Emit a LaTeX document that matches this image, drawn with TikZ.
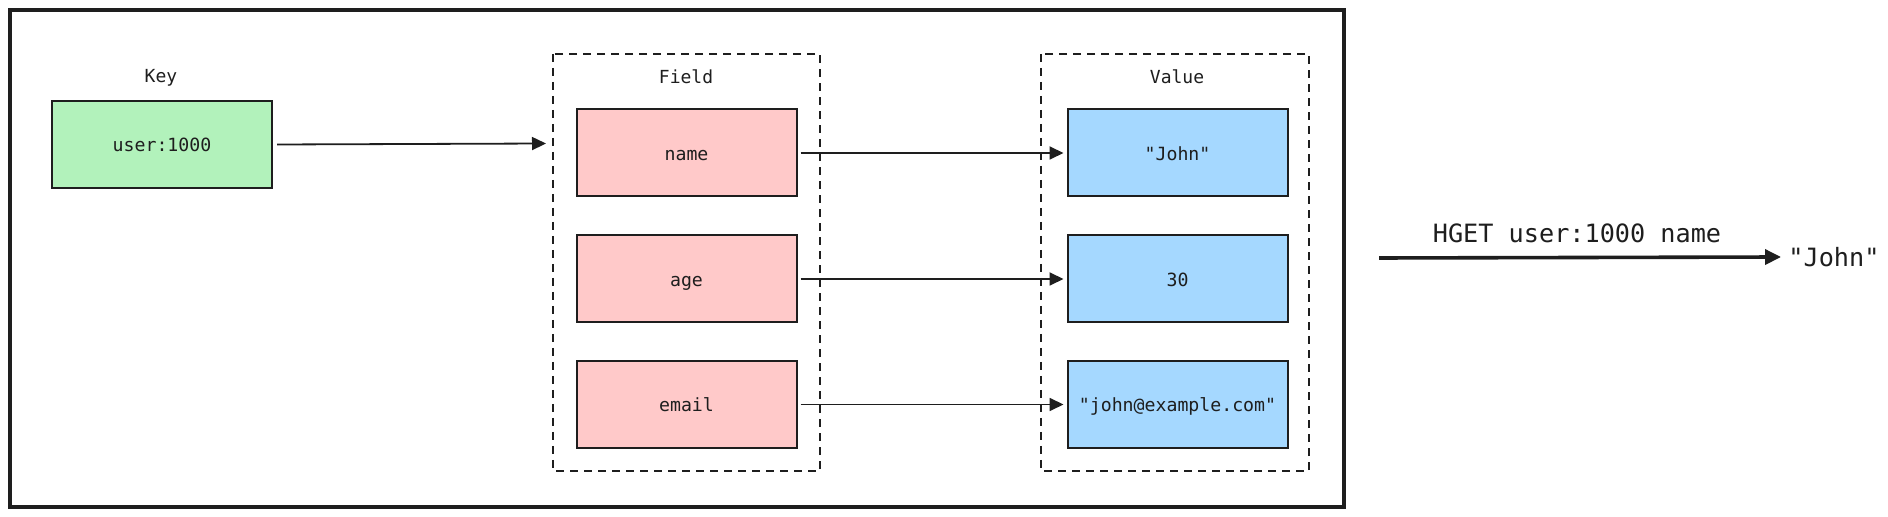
\documentclass[tikz,border=0pt]{standalone}
\usepackage{fontspec}
\setmonofont{DejaVu Sans Mono}
\usetikzlibrary{arrows.meta}
\definecolor{ink}{HTML}{1E1E1E}
\definecolor{keyfill}{HTML}{B2F2BB}
\definecolor{fieldfill}{HTML}{FFC9C9}
\definecolor{valfill}{HTML}{A5D8FF}
\tikzset{
  box/.style={draw=ink, line width=1pt, minimum width=110pt, minimum height=43.5pt, inner sep=0pt, font=\ttfamily\fontsize{9.1}{10}\selectfont, text=ink, text height=2.1ex, text depth=0.45ex},
  keybox/.style={box, fill=keyfill},
  fieldbox/.style={box, fill=fieldfill},
  valbox/.style={box, fill=valfill},
  group/.style={draw=ink, line width=0.9pt, dash pattern=on 4pt off 3pt},
  lbl/.style={font=\ttfamily\fontsize{9}{10}\selectfont, text=ink, inner sep=0pt},
  conn/.style={draw=ink, line width=0.9pt, -{Triangle[length=7pt,width=6.5pt]}},
  bigconn/.style={draw=ink, line width=1.8pt, -{Triangle[length=8pt,width=7.5pt]}},
  biglbl/.style={font=\ttfamily\fontsize{12.6}{14}\selectfont, text=ink, inner sep=0pt}
}
\begin{document}
\begin{tikzpicture}[x=0.5pt,y=-0.5pt]
\useasboundingbox (0,0) rectangle (1888,517);
\fill[white] (0,0) rectangle (1888,517);
% outer frame
\draw[ink, line width=1.8pt] (10,10) rectangle (1344,507);
% groups
\draw[group] (553,54) rectangle (820,471);
\draw[group] (1041,54) rectangle (1309,471);
% labels
\node[lbl] (keylbl) at (161,78) {Key};
\node[lbl] (fieldlbl) at (686,77) {Field};
\node[lbl] (vallbl) at (1177,77) {Value};
% key
\node[keybox] (key) at (162,144.5) {user:1000};
% fields
\node[fieldbox] (fname) at (686.5,153) {name};
\node[fieldbox] (fage) at (686.5,279) {age};
\node[fieldbox] (femail) at (686.5,404.5) {email};
% values
\node[valbox] (vname) at (1177.5,153) {"John"};
\node[valbox] (vage) at (1177.5,279) {30};
\node[valbox] (vemail) at (1177.5,404.5) {"john@example.com"};
% connectors
\coordinate (fieldin) at (546,143.5);
\draw[conn] ([xshift=2pt]key.east) -- (fieldin);
\draw[conn] ([xshift=1.5pt]fname.east) -- ([xshift=-1.5pt]vname.west);
\draw[conn] ([xshift=1.5pt]fage.east) -- ([xshift=-1.5pt]vage.west);
\draw[conn] ([xshift=1.5pt]femail.east) -- ([xshift=-1.5pt]vemail.west);
% HGET
\coordinate (hstart) at (1379,258);
\node[biglbl, anchor=west] (john) at (1788,257) {"John"};
\draw[bigconn] (hstart) -- ([xshift=-3.5pt]john.west);
\node[biglbl] (hget) at (1577,233) {HGET user:1000 name};
\end{tikzpicture}
\end{document}
